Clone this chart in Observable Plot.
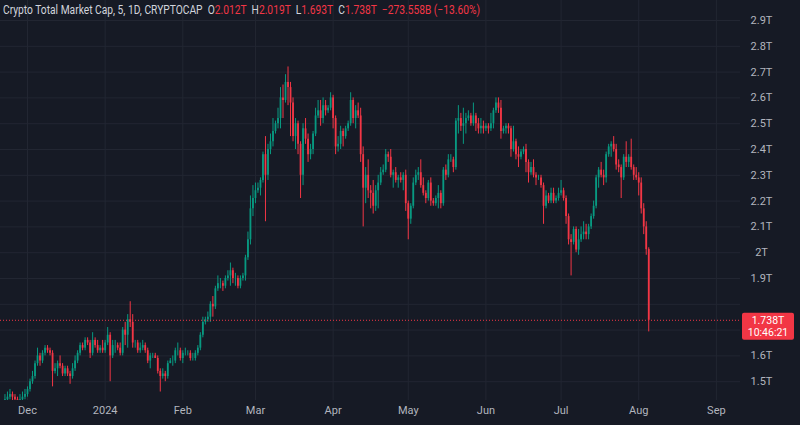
<!DOCTYPE html>
<html><head><meta charset="utf-8">
<script src="https://cdn.jsdelivr.net/npm/d3@7"></script>
<script src="https://cdn.jsdelivr.net/npm/@observablehq/plot@0.6"></script>
<style>
html,body{margin:0;padding:0;background:#161a25;}
#wrap{position:relative;width:800px;height:425px;overflow:hidden;background:#161a25;}
#hdr{position:absolute;left:3px;top:3px;font:12px Roboto, sans-serif;color:#d1d4dc;white-space:nowrap;transform-origin:0 0;z-index:2;}
#hdr .r{color:#f23645}
</style></head><body><div id="wrap"><div id="hdr"></div></div>
<script>
// ---- data (trillions USD), daily from 2023-11-22 ----
const startYear = 2023, startMonth = 10, startDay = 22;
const firstOpen = 1.42;
const closes = [
1.43,1.44,1.45,1.44,1.43,1.42,1.43,1.44,1.45,
1.47,1.50,1.52,1.57,1.60,1.58,1.61,1.63,1.62,1.61,1.54,1.55,1.57,1.56,1.53,1.55,1.53,1.52,1.55,1.58,1.61,1.64,1.63,1.66,1.65,1.61,1.66,1.64,1.62,1.63,1.62,
1.65,1.68,1.60,1.64,1.64,1.63,1.61,1.70,1.68,1.74,1.73,1.65,1.65,1.62,1.63,1.64,1.62,1.58,1.60,1.60,1.59,1.54,1.52,1.53,1.52,1.57,1.58,1.58,1.62,1.62,1.59,
1.61,1.61,1.61,1.59,1.59,1.61,1.63,1.68,1.73,1.74,1.75,1.80,1.79,1.86,1.88,1.88,1.87,1.90,1.91,1.93,1.90,1.90,1.87,1.90,1.91,1.98,2.05,2.17,2.21,
2.24,2.25,2.28,2.38,2.30,2.40,2.43,2.47,2.50,2.52,2.60,2.59,2.66,2.64,2.58,2.45,2.50,2.42,2.30,2.48,2.44,2.38,2.40,2.46,2.53,2.55,2.52,2.57,2.55,2.56,2.60,
2.52,2.41,2.42,2.47,2.45,2.48,2.50,2.59,2.52,2.55,2.53,2.38,2.25,2.30,2.24,2.23,2.18,2.24,2.27,2.31,2.32,2.38,2.37,2.30,2.31,2.28,2.29,2.28,2.30,2.19,
2.13,2.18,2.27,2.30,2.31,2.26,2.23,2.21,2.27,2.20,2.19,2.21,2.23,2.19,2.32,2.30,2.36,2.36,2.33,2.51,2.52,2.49,2.50,2.52,2.53,2.50,2.53,2.50,2.48,2.49,2.48,
2.49,2.48,2.50,2.55,2.58,2.56,2.47,2.48,2.49,2.48,2.40,2.43,2.38,2.37,2.39,2.40,2.35,2.31,2.33,2.30,2.29,2.29,2.26,2.18,2.22,2.20,2.23,2.20,2.21,2.23,
2.24,2.21,2.14,2.05,2.04,2.09,2.01,2.05,2.07,2.08,2.07,2.10,2.14,2.18,2.29,2.32,2.30,2.29,2.38,2.41,2.42,2.40,2.34,2.33,2.29,2.37,2.35,2.37,2.33,2.30,2.29,
2.27,2.17,2.10,2.012,1.738];
const highs = [
1.45,1.46,1.47,1.46,1.45,1.44,1.45,1.46,1.47,
1.48,1.51,1.54,1.58,1.63,1.61,1.62,1.64,1.64,1.63,1.62,1.57,1.58,1.60,1.57,1.56,1.56,1.54,1.57,1.60,1.62,1.65,1.65,1.67,1.67,1.66,1.69,1.67,1.66,1.64,1.66,
1.66,1.71,1.69,1.66,1.66,1.65,1.65,1.71,1.73,1.76,1.81,1.76,1.66,1.66,1.65,1.66,1.65,1.63,1.61,1.61,1.61,1.60,1.55,1.55,1.54,1.58,1.59,1.60,1.63,1.65,1.63,
1.62,1.63,1.62,1.62,1.61,1.62,1.64,1.69,1.75,1.75,1.77,1.81,1.83,1.87,1.91,1.90,1.89,1.91,1.93,1.96,1.94,1.92,1.91,1.91,1.92,1.99,2.08,2.22,2.26,
2.27,2.27,2.29,2.39,2.45,2.42,2.46,2.52,2.51,2.56,2.64,2.65,2.69,2.72,2.66,2.60,2.52,2.51,2.43,2.50,2.52,2.46,2.42,2.47,2.56,2.59,2.59,2.60,2.59,2.57,2.62,
2.61,2.53,2.45,2.49,2.48,2.49,2.51,2.62,2.60,2.57,2.58,2.56,2.41,2.33,2.36,2.26,2.28,2.26,2.30,2.33,2.34,2.40,2.39,2.40,2.32,2.33,2.30,2.31,2.31,2.32,
2.20,2.19,2.29,2.32,2.33,2.36,2.29,2.24,2.28,2.29,2.21,2.22,2.26,2.24,2.33,2.34,2.38,2.38,2.37,2.52,2.57,2.54,2.56,2.54,2.55,2.54,2.58,2.54,2.52,2.52,2.51,
2.50,2.50,2.54,2.56,2.60,2.60,2.59,2.49,2.50,2.50,2.49,2.49,2.44,2.41,2.40,2.41,2.42,2.36,2.35,2.36,2.31,2.30,2.30,2.27,2.24,2.23,2.25,2.25,2.22,2.25,
2.28,2.25,2.22,2.15,2.07,2.10,2.10,2.09,2.10,2.12,2.11,2.11,2.15,2.20,2.30,2.33,2.35,2.32,2.39,2.42,2.43,2.45,2.42,2.36,2.34,2.38,2.43,2.38,2.44,2.34,2.33,
2.31,2.29,2.19,2.12,2.019];
const lows = [
1.41,1.42,1.43,1.42,1.41,1.40,1.41,1.42,1.43,
1.44,1.46,1.49,1.51,1.56,1.56,1.57,1.60,1.61,1.60,1.48,1.53,1.52,1.55,1.52,1.52,1.52,1.49,1.51,1.54,1.57,1.60,1.62,1.62,1.64,1.59,1.60,1.63,1.61,1.61,1.61,
1.61,1.64,1.50,1.59,1.61,1.62,1.60,1.60,1.64,1.63,1.71,1.63,1.63,1.61,1.61,1.62,1.61,1.57,1.55,1.59,1.59,1.53,1.46,1.51,1.50,1.51,1.57,1.56,1.57,1.60,1.58,
1.57,1.60,1.60,1.58,1.58,1.58,1.60,1.62,1.67,1.72,1.73,1.73,1.75,1.78,1.85,1.86,1.85,1.86,1.89,1.87,1.88,1.87,1.86,1.86,1.89,1.89,1.97,2.03,2.14,
2.19,2.23,2.22,2.27,2.12,2.28,2.38,2.41,2.46,2.48,2.48,2.52,2.58,2.57,2.45,2.43,2.40,2.38,2.21,2.26,2.42,2.35,2.36,2.38,2.45,2.52,2.49,2.50,2.53,2.54,2.55,
2.48,2.38,2.39,2.40,2.41,2.44,2.47,2.49,2.50,2.48,2.52,2.35,2.10,2.19,2.21,2.17,2.15,2.16,2.17,2.26,2.30,2.31,2.35,2.29,2.25,2.27,2.25,2.27,2.24,2.16,
2.05,2.11,2.17,2.26,2.28,2.25,2.22,2.19,2.20,2.18,2.18,2.18,2.17,2.17,2.18,2.28,2.29,2.35,2.31,2.32,2.46,2.47,2.42,2.46,2.51,2.49,2.49,2.47,2.46,2.46,2.46,
2.47,2.46,2.47,2.48,2.54,2.54,2.44,2.46,2.46,2.46,2.37,2.39,2.36,2.33,2.36,2.38,2.31,2.27,2.30,2.29,2.26,2.28,2.25,2.11,2.17,2.19,2.19,2.19,2.19,2.20,
2.22,2.20,2.11,2.03,1.91,2.03,2.00,1.99,2.04,2.05,2.05,2.05,2.09,2.13,2.17,2.25,2.29,2.26,2.27,2.37,2.37,2.39,2.32,2.31,2.21,2.28,2.33,2.33,2.32,2.28,2.28,
2.22,2.15,2.07,1.99,1.693];

// ---- ticks / labels ----
const yTicks = [1.5,1.6,1.7,1.8,1.9,2.0,2.1,2.2,2.3,2.4,2.5,2.6,2.7,2.8,2.9];
const yTickLabels = ["1.5T","1.6T","1.7T","1.8T","1.9T","2T","2.1T","2.2T","2.3T","2.4T","2.5T","2.6T","2.7T","2.8T","2.9T"];
const monthTicks = [[2023,11],[2024,0],[2024,1],[2024,2],[2024,3],[2024,4],[2024,5],[2024,6],[2024,7],[2024,8]];
const monthLabels = ["Dec","2024","Feb","Mar","Apr","May","Jun","Jul","Aug","Sep"];
const titleText = "Crypto Total Market Cap, 5, 1D, CRYPTOCAP";
const ohlcLabels = ["O","H","L","C"];
const ohlcTexts = ["2.012T","2.019T","1.693T","1.738T"];
const changeText = "\u2212273.558B (\u221213.60%)";
const lastPriceText = "1.738T";
const countdownText = "10:46:21";

// ---- build ----
const upColor = "#089981", downColor = "#f23645";
const data = closes.map((c, i) => ({
  date: new Date(Date.UTC(startYear, startMonth, startDay + i)),
  open: i === 0 ? firstOpen : closes[i - 1],
  close: c, high: highs[i], low: lows[i]
}));
data.forEach(d => d.color = d.close >= d.open ? upColor : downColor);
const monthDates = monthTicks.map(([y, m]) => new Date(Date.UTC(y, m, 1)));
const day = 864e5;
const dec1 = Date.UTC(2023, 11, 1);
const xDomain = [new Date(dec1 - 10.78 * day), new Date(dec1 + 284.63 * day)];
const yDomain = [2.9 - 380 / 258, 2.9 + 20 / 258];
const lastClose = closes[closes.length - 1];
const gridColor = "#222632";
// the price-scale label that the last-price box covers is not shown
const pxPerT = 400 / (yDomain[1] - yDomain[0]);
const visibleYTicks = yTicks.filter(t => Math.abs(t - lastClose) * pxPerT > 16);

const chart = Plot.plot({
  width: 800, height: 425,
  marginLeft: 0, marginRight: 60, marginTop: 0, marginBottom: 25,
  style: {background: "transparent", color: "#b2b5be", fontFamily: "Roboto, sans-serif", fontSize: "11px"},
  x: {type: "utc", domain: xDomain},
  y: {domain: yDomain},
  color: {type: "identity"},
  marks: [
    Plot.ruleY(yTicks, {stroke: gridColor, strokeWidth: 1}),
    Plot.ruleX(monthDates, {stroke: gridColor, strokeWidth: 1}),
    Plot.ruleX(data, {x: "date", y1: "low", y2: "high", stroke: "color", strokeWidth: 1, clip: true}),
    Plot.ruleX(data, {x: "date", y1: "open", y2: "close", stroke: "color", strokeWidth: 1.8, clip: true}),
    Plot.ruleY([lastClose], {stroke: downColor, strokeWidth: 1, strokeDasharray: "1,2"}),
    Plot.axisY(visibleYTicks, {anchor: "right", tickSize: 0, tickPadding: 21, textAnchor: "middle",
      tickFormat: d => yTickLabels[yTicks.indexOf(d)], fill: "#b2b5be"}),
    Plot.axisX(monthDates, {tickSize: 0, tickPadding: 6,
      tickFormat: d => monthLabels[monthDates.findIndex(m => +m === +d)], fill: "#b2b5be"})
  ]
});
const wrap = document.getElementById("wrap");
wrap.appendChild(chart);

// last price box on the price scale
const yy = chart.scale("y").apply(lastClose);
const svg = d3.select(chart);
const g = svg.append("g").attr("font-family", "Roboto, sans-serif").attr("font-size", 10.5).attr("fill", "#ffffff").attr("text-anchor", "middle");
g.append("rect").attr("x", 742).attr("y", yy - 7).attr("width", 52).attr("height", 27).attr("rx", 2).attr("fill", downColor);
g.append("text").attr("x", 768).attr("y", yy + 3.8).text(lastPriceText);
g.append("text").attr("x", 768).attr("y", yy + 16).text(countdownText);

// header legend
const hdr = document.getElementById("hdr");
let html = `<span>${titleText}</span>&nbsp;&nbsp;`;
ohlcLabels.forEach((l, i) => { html += `<span>${l}</span><span class="r">${ohlcTexts[i]}</span>&nbsp;&nbsp;`; });
html += `<span class="r">${changeText}</span>`;
hdr.innerHTML = html;
const w = hdr.getBoundingClientRect().width;
hdr.style.transform = `scaleX(${477 / w})`;
</script>
</body></html>
